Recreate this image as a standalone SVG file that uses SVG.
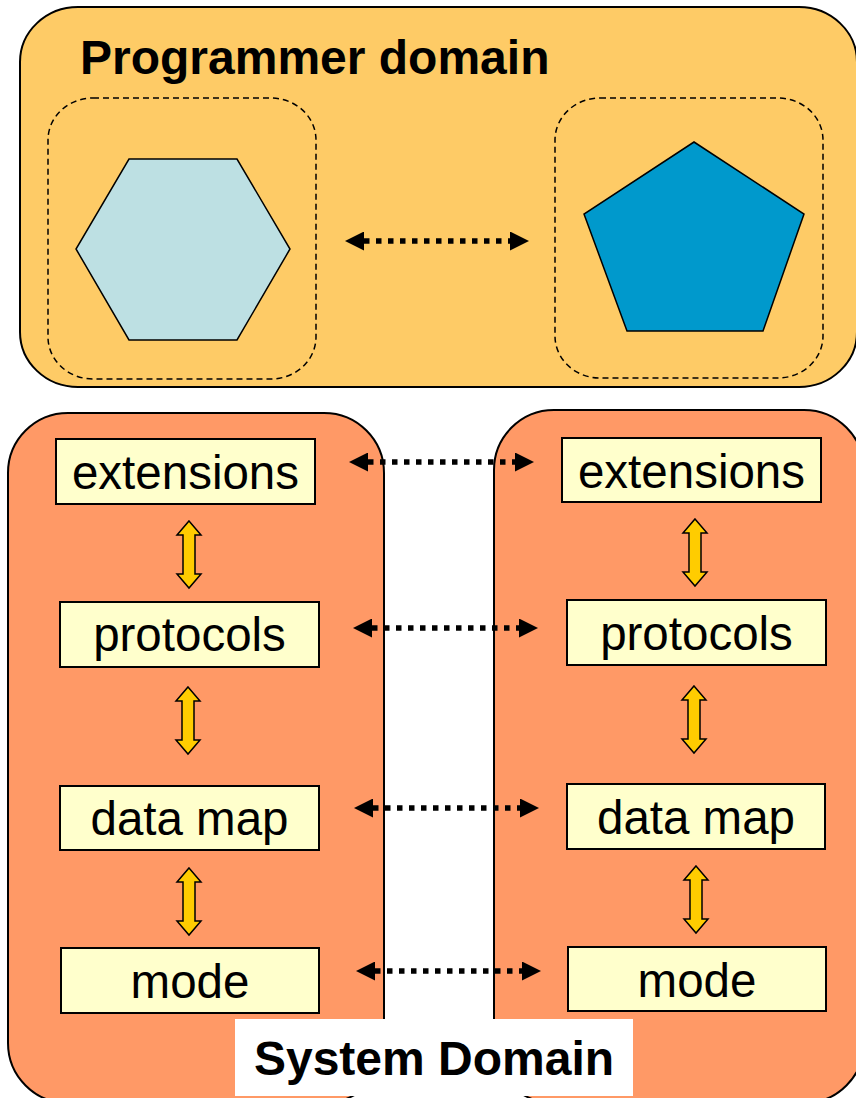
<svg xmlns="http://www.w3.org/2000/svg" width="856" height="1098" viewBox="0 0 856 1098">
  <style>
    .panel-top { fill: #FECB66; stroke: #000; stroke-width: 2; }
    .panel-sys { fill: #FF9966; stroke: #000; stroke-width: 2; }
    .scope { fill: none; stroke: #000; stroke-width: 1.5; stroke-dasharray: 6 4; }
    .box { fill: #FFFFCC; stroke: #000; stroke-width: 2; }
    .lbl { font-family: "Liberation Sans", Arial, sans-serif; font-size: 47.5px; fill: #000; text-anchor: middle; }
    .title { font-family: "Liberation Sans", Arial, sans-serif; font-size: 48px; font-weight: bold; fill: #000; }
    .dots { stroke: #000; stroke-width: 5.5; stroke-dasharray: 5.5 6.5; fill: none; marker-start: url(#tri); marker-end: url(#tri); }
    .updown { fill: #FFCC00; stroke: #000; stroke-width: 1.5; stroke-linejoin: miter; }
  </style>
  <defs>
    <marker id="tri" markerUnits="userSpaceOnUse" markerWidth="19" markerHeight="19" viewBox="0 0 19 19" refX="0" refY="9.5" orient="auto-start-reverse">
      <path d="M0,0 L19,9.5 L0,19 Z" fill="#000"/>
    </marker>
    <!-- vertical double-headed block arrow, tips at y=0 and y=67 -->
    <path id="ud" d="M0,0 L12,14 L6,14 L6,53 L12,53 L0,67 L-12,53 L-6,53 L-6,14 L-12,14 Z"/>
  </defs>

  <!-- programmer domain -->
  <g id="programmer-domain">
    <rect class="panel-top" x="20" y="7" width="837" height="380" rx="58" ry="55"/>
    <text class="title" x="80" y="74">Programmer domain</text>
  </g>
  <g id="hexagon-node">
    <rect class="scope" x="48" y="98" width="268" height="281" rx="45" ry="42"/>
    <polygon points="129,159 237,159 290,249 237,340 129,340 76,249" fill="#BDE0E3" stroke="#000" stroke-width="1.5"/>
  </g>
  <g id="pentagon-node">
    <rect class="scope" x="555" y="98" width="268" height="280" rx="45" ry="42"/>
    <polygon points="694,142 804,214 763,331 627,331 584,214" fill="#0099CC" stroke="#000" stroke-width="1.5"/>
  </g>

  <!-- system domain stacks -->
  <g id="left-stack">
    <rect class="panel-sys" x="8" y="413" width="376" height="690" rx="60" ry="60"/>
  </g>
  <g id="right-stack">
    <rect class="panel-sys" x="494" y="410" width="370" height="693" rx="60" ry="60"/>
  </g>

  <g id="left-extensions">
    <rect class="box" x="56" y="439" width="259" height="65"/>
    <text class="lbl" x="185.5" y="489">extensions</text>
  </g>
  <g id="left-protocols">
    <rect class="box" x="60" y="602" width="259" height="65"/>
    <text class="lbl" x="189.5" y="651">protocols</text>
  </g>
  <g id="left-datamap">
    <rect class="box" x="60" y="786" width="259" height="64"/>
    <text class="lbl" x="189.5" y="835">data map</text>
  </g>
  <g id="left-mode">
    <rect class="box" x="61" y="948" width="258" height="65"/>
    <text class="lbl" x="190" y="998">mode</text>
  </g>

  <g id="right-extensions">
    <rect class="box" x="562" y="438" width="259" height="64"/>
    <text class="lbl" x="691.5" y="488">extensions</text>
  </g>
  <g id="right-protocols">
    <rect class="box" x="567" y="600" width="259" height="65"/>
    <text class="lbl" x="696.5" y="650">protocols</text>
  </g>
  <g id="right-datamap">
    <rect class="box" x="567" y="784" width="258" height="65"/>
    <text class="lbl" x="696" y="834">data map</text>
  </g>
  <g id="right-mode">
    <rect class="box" x="568" y="947" width="258" height="64"/>
    <text class="lbl" x="697" y="997">mode</text>
  </g>

  <g id="connectors">
    <!-- peer links -->
    <line class="dots" x1="364" y1="241" x2="510" y2="241"/>
    <line class="dots" x1="368" y1="462" x2="515" y2="462"/>
    <line class="dots" x1="372" y1="628" x2="519" y2="628"/>
    <line class="dots" x1="373" y1="808" x2="520" y2="808"/>
    <line class="dots" x1="375" y1="971" x2="522" y2="971"/>
    <!-- layer links -->
    <use href="#ud" class="updown" transform="translate(189,521)"/>
    <use href="#ud" class="updown" transform="translate(188,687)"/>
    <use href="#ud" class="updown" transform="translate(189,868)"/>
    <use href="#ud" class="updown" transform="translate(695,519)"/>
    <use href="#ud" class="updown" transform="translate(694,686)"/>
    <use href="#ud" class="updown" transform="translate(696,866)"/>
  </g>

  <g id="system-domain-label">
    <rect x="235" y="1019" width="398" height="77" fill="#FFFFFF"/>
    <text class="title" x="434" y="1075" text-anchor="middle">System Domain</text>
  </g>
</svg>
